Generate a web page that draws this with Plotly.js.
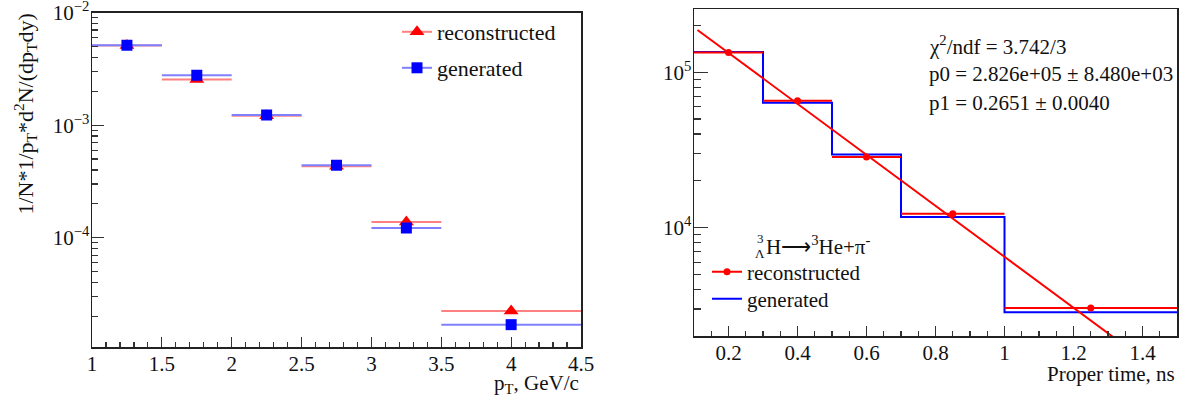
<!DOCTYPE html>
<html><head><meta charset="utf-8">
<script src="https://cdn.plot.ly/plotly-3.0.1.min.js"></script>
<style>body{margin:0;background:#fff}#c{width:1189px;height:412px}</style>
</head><body><div id="c"></div>
<script>
// ---- Left panel: pT spectrum ----
const ptCenters   = [1.25, 1.75, 2.25, 2.75, 3.25, 4.0];
const ptHalfWidth = [0.25, 0.25, 0.25, 0.25, 0.25, 0.5];
const recoSpectrum = [5.1e-3, 2.55e-3, 1.21e-3, 4.32e-4, 1.38e-4, 2.23e-5];
const genSpectrum  = [5.14e-3, 2.78e-3, 1.23e-3, 4.41e-4, 1.22e-4, 1.69e-5];
const leftXTicks = [1, 1.5, 2, 2.5, 3, 3.5, 4, 4.5];
const leftYTicks = [1e-4, 1e-3, 1e-2];
const leftYTickText = ['10<sup>\u22124</sup>', '10<sup>\u22123</sup>', '10<sup>\u22122</sup>'];

// ---- Right panel: proper time ----
const tauEdges   = [0.1, 0.3, 0.5, 0.7, 1.0, 1.5];
const tauCenters = [0.2, 0.4, 0.6, 0.85, 1.25];
const recoTau = [1.34e5, 6.56e4, 2.85e4, 1.23e4, 3.04e3];
const genTau  = [1.35e5, 6.37e4, 2.96e4, 1.17e4, 2.86e3];
const fitT = [0.11, 1.32];
const fitY = [1.87e5, 1.94e3];
const rightXTicks = [0.2, 0.4, 0.6, 0.8, 1, 1.2, 1.4];
const rightYTicks = [1e4, 1e5];
const rightYTickText = ['10<sup>4</sup>', '10<sup>5</sup>'];
const statsLines = ['\u03c7<sup>2</sup>/ndf = 3.742/3', 'p0 = 2.826e+05 \u00b1 8.480e+03', 'p1 = 0.2651 \u00b1 0.0040'];

const FONT = 'Liberation Serif';
const W = 1189, H = 412;
const px = v => v / W, py = v => 1 - v / H;

function logMinors(lo, hi) {
  const out = [];
  for (let e = lo; e <= hi; e++) for (let m = 2; m <= 9; m++) out.push(m * Math.pow(10, e));
  return out;
}
const tauHalf = tauEdges.slice(0, -1).map((e, i) => (tauEdges[i + 1] - e) / 2);

const traces = [
  {x: ptCenters, y: recoSpectrum, type: 'scatter', mode: 'markers', xaxis: 'x', yaxis: 'y',
   marker: {symbol: 'triangle-up', size: 13, color: '#ff0000'},
   error_x: {type: 'data', array: ptHalfWidth, color: '#ff8080', thickness: 2, width: 0},
   showlegend: false},
  {x: ptCenters, y: genSpectrum, type: 'scatter', mode: 'markers', xaxis: 'x', yaxis: 'y',
   marker: {symbol: 'square', size: 11, color: '#0000ff'},
   error_x: {type: 'data', array: ptHalfWidth, color: '#8080ff', thickness: 2, width: 0},
   showlegend: false},
  // legend entries (left)
  {x: [null], y: [null], type: 'scatter', mode: 'lines+markers', xaxis: 'x', yaxis: 'y',
   name: 'reconstructed', legend: 'legend',
   line: {color: '#ff8080', width: 2}, marker: {symbol: 'triangle-up', size: 13, color: '#ff0000'}},
  {x: [null], y: [null], type: 'scatter', mode: 'lines+markers', xaxis: 'x', yaxis: 'y',
   name: 'generated', legend: 'legend2',
   line: {color: '#8080ff', width: 2}, marker: {symbol: 'square', size: 11, color: '#0000ff'}},

  // right panel
  {x: tauEdges, y: genTau.concat([genTau[genTau.length - 1]]), type: 'scatter', mode: 'lines',
   xaxis: 'x2', yaxis: 'y2', line: {shape: 'hv', color: '#0000ff', width: 2}, showlegend: false},
  {x: tauCenters, y: recoTau, type: 'scatter', mode: 'markers', xaxis: 'x2', yaxis: 'y2',
   marker: {symbol: 'circle', size: 7, color: '#ff0000'},
   error_x: {type: 'data', array: tauHalf, color: '#ff0000', thickness: 2, width: 0},
   showlegend: false},
  {x: fitT, y: fitY, type: 'scatter', mode: 'lines', xaxis: 'x2', yaxis: 'y2',
   line: {color: '#ff0000', width: 2}, showlegend: false},
  // legend entries (right)
  {x: [null], y: [null], type: 'scatter', mode: 'lines+markers', xaxis: 'x2', yaxis: 'y2',
   name: 'reconstructed', legend: 'legend3',
   line: {color: '#ff0000', width: 2}, marker: {symbol: 'circle', size: 7, color: '#ff0000'}},
  {x: [null], y: [null], type: 'scatter', mode: 'lines', xaxis: 'x2', yaxis: 'y2',
   name: 'generated', legend: 'legend4',
   line: {color: '#0000ff', width: 2}}
];

const axisCommon = {showgrid: false, zeroline: false, showline: true, mirror: true,
  linecolor: '#222', linewidth: 1.5, ticks: 'inside', tickcolor: '#333', tickwidth: 1.2,
  ticklabelstandoff: -3, ticklabeloverflow: 'allow',
  tickfont: {family: FONT, size: 21, color: '#111'}};

const annotations = [
  {xref: 'paper', yref: 'paper', x: px(25), y: py(12), xanchor: 'center', yanchor: 'top',
   textangle: -90, showarrow: false, font: {family: FONT, size: 22, color: '#111'},
   text: '1/N*1/p<sub>T</sub>*d<sup>2</sup>N/(dp<sub>T</sub>dy)'},
  {xref: 'paper', yref: 'paper', x: px(581), y: py(384), xanchor: 'right', yanchor: 'middle',
   showarrow: false, font: {family: FONT, size: 21, color: '#111'}, text: 'p<sub>T</sub>, GeV/c'},
  {xref: 'paper', yref: 'paper', x: px(1177), y: py(374), xanchor: 'right', yanchor: 'middle',
   showarrow: false, font: {family: FONT, size: 21, color: '#111'}, text: 'Proper time, ns'},
  // legend title (right)
  {xref: 'paper', yref: 'paper', x: px(764), y: py(246), xanchor: 'left', yanchor: 'middle',
   showarrow: false, font: {family: FONT, size: 21, color: '#111'}, text: 'H\u27f6<sup>3</sup>He+\u03c0<sup>-</sup>'},
  {xref: 'paper', yref: 'paper', x: px(760), y: py(254), xanchor: 'center', yanchor: 'middle',
   showarrow: false, font: {family: FONT, size: 13, color: '#111'}, text: '\u039b'},
  {xref: 'paper', yref: 'paper', x: px(760), y: py(239), xanchor: 'center', yanchor: 'middle',
   showarrow: false, font: {family: FONT, size: 13, color: '#111'}, text: '3'}
];
statsLines.forEach((t, i) => annotations.push({xref: 'paper', yref: 'paper', x: px(927), y: py(46 + 28.5 * i),
  xanchor: 'left', yanchor: 'middle', showarrow: false, font: {family: FONT, size: 21, color: '#111'}, text: t}));

function leg(x, y, size) {
  return {x: px(x), y: py(y), xanchor: 'left', yanchor: 'middle', bgcolor: 'rgba(0,0,0,0)',
    font: {family: FONT, size: size, color: '#111'}, itemwidth: 30};
}

const layout = {
  width: W, height: H, margin: {l: 0, r: 0, t: 0, b: 0},
  paper_bgcolor: '#fff', plot_bgcolor: '#fff',
  xaxis: Object.assign({}, axisCommon, {domain: [px(92), px(581)], anchor: 'y', range: [1, 4.5],
    tickmode: 'array', tickvals: leftXTicks, ticktext: leftXTicks.map(String), ticklen: 10,
    minor: {dtick: 0.1, tick0: 1, ticks: 'inside', ticklen: 5, tickcolor: '#333', tickwidth: 1.2}}),
  yaxis: Object.assign({}, axisCommon, {domain: [1 - 347 / H, 1 - 12.5 / H], anchor: 'x', type: 'log',
    range: [Math.log10(1.07e-5), -1.999], tickmode: 'array', tickvals: leftYTicks, ticktext: leftYTickText, ticklen: 12,
    minor: {tickmode: 'array', tickvals: logMinors(-5, -3), ticks: 'inside', ticklen: 6, tickcolor: '#333', tickwidth: 1.2}}),
  xaxis2: Object.assign({}, axisCommon, {domain: [px(694), px(1177)], anchor: 'y2', range: [0.1, 1.5],
    tickmode: 'array', tickvals: rightXTicks, ticktext: rightXTicks.map(String), ticklen: 10,
    minor: {dtick: 0.05, tick0: 0.1, ticks: 'inside', ticklen: 5, tickcolor: '#333', tickwidth: 1.2}}),
  yaxis2: Object.assign({}, axisCommon, {domain: [1 - 336.3 / H, 1 - 9 / H], anchor: 'x2', type: 'log',
    range: [Math.log10(2000), Math.log10(2.55e5)], tickmode: 'array', tickvals: rightYTicks, ticktext: rightYTickText, ticklen: 14,
    minor: {tickmode: 'array', tickvals: logMinors(3, 5), ticks: 'inside', ticklen: 7, tickcolor: '#333', tickwidth: 1.2}}),
  legend: leg(397, 32, 22),
  legend2: leg(397, 68, 22),
  legend3: leg(707, 272, 21),
  legend4: leg(707, 299, 21),
  annotations: annotations,
  showlegend: true
};

Plotly.newPlot('c', traces, layout, {staticPlot: true});
</script></body></html>
